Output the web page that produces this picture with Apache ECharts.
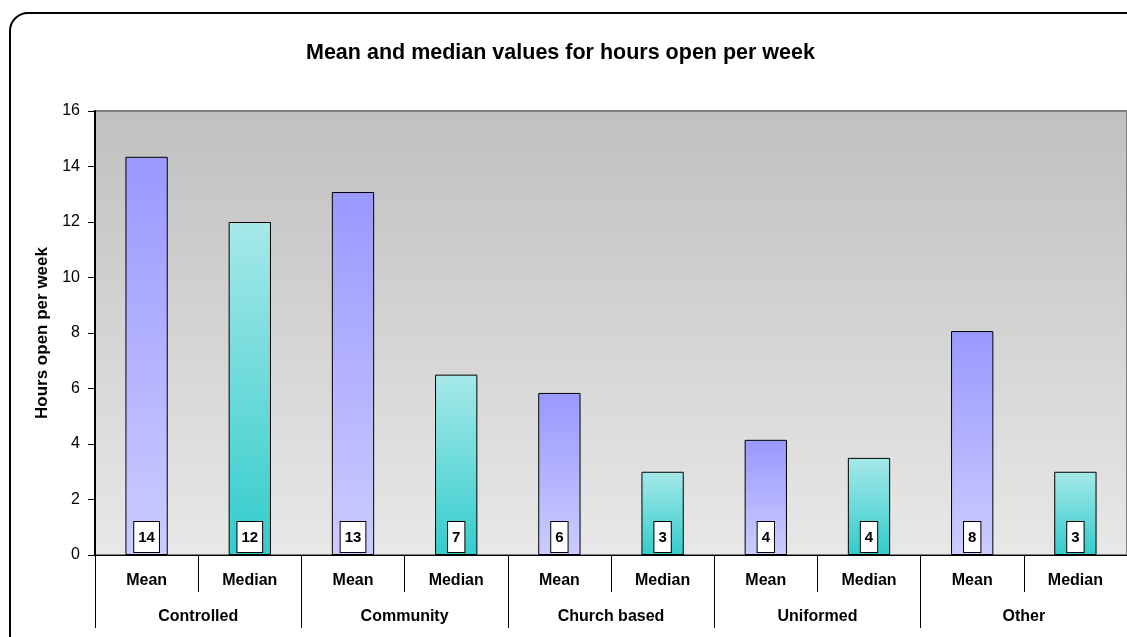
<!DOCTYPE html>
<html>
<head>
<meta charset="utf-8">
<script src="https://cdn.jsdelivr.net/npm/echarts@6/dist/echarts.min.js"></script>
<style>
html,body{margin:0;padding:0;background:#fff;}
#main{width:1127px;height:637px;}
</style>
</head>
<body>
<div id="main"></div>
<script>
// categories (two levels)
var measures = ['Mean', 'Median', 'Mean', 'Median', 'Mean', 'Median', 'Mean', 'Median', 'Mean', 'Median'];
var groups = ['Controlled', 'Community', 'Church based', 'Uniformed', 'Other'];
// hours open per week
var hours = [14.35, 12.0, 13.08, 6.5, 5.84, 3.0, 4.15, 3.5, 8.07, 3.0];
var yTicks = [0, 2, 4, 6, 8, 10, 12, 14, 16];

var meanFill = {type:'linear', x:0, y:0, x2:0, y2:1,
    colorStops:[{offset:0, color:'#9999ff'}, {offset:1, color:'#ccccff'}]};
var medianFill = {type:'linear', x:0, y:0, x2:0, y2:1,
    colorStops:[{offset:0, color:'#a6e8e8'}, {offset:1, color:'#33cccc'}]};

var barData = [];
for (var i = 0; i < hours.length; i++) {
    barData.push({
        value: hours[i],
        itemStyle: {color: measures[i] == 'Mean' ? meanFill : medianFill}
    });
}

var font = 'Liberation Sans';
var chart = echarts.init(document.getElementById('main'));
var option = {
    animation: false,
    title: {
        text: 'Mean and median values for hours open per week',
        left: 301,
        top: 37,
        textStyle: {fontFamily: font, fontSize: 21.5, fontWeight: 'bold', color: '#000'}
    },
    graphic: [{
        type: 'rect',
        shape: {x: 10, y: 13, width: 1200, height: 640, r: 18},
        style: {fill: 'none', stroke: '#000', lineWidth: 2},
        silent: true,
        z: 100
    }],
    grid: {
        left: 95, top: 111, right: -3, bottom: 82,
        show: true,
        borderColor: '#808080',
        borderWidth: 2,
        backgroundColor: {type:'linear', x:0, y:0, x2:0, y2:1,
            colorStops:[{offset:0, color:'#c0c0c0'}, {offset:1, color:'#e8e8e8'}]}
    },
    xAxis: [{
        type: 'category',
        data: measures,
        position: 'bottom',
        axisLine: {show: true, lineStyle: {color: '#000', width: 1}},
        axisTick: {show: true, length: 37, interval: 0, lineStyle: {color: '#000'}},
        axisLabel: {margin: 18, color: '#000', fontFamily: font, fontSize: 16, fontWeight: 'bold', interval: 0}
    }, {
        type: 'category',
        data: groups,
        position: 'bottom',
        axisLine: {show: false},
        axisTick: {show: true, length: 73, interval: 0, lineStyle: {color: '#000'}},
        axisLabel: {margin: 54, color: '#000', fontFamily: font, fontSize: 16, fontWeight: 'bold', interval: 0}
    }],
    yAxis: {
        type: 'value',
        min: yTicks[0],
        max: yTicks[yTicks.length - 1],
        interval: 2,
        name: 'Hours open per week',
        nameLocation: 'middle',
        nameGap: 43,
        nameTextStyle: {color: '#000', fontFamily: font, fontSize: 17, fontWeight: 'bold'},
        axisLine: {show: true, lineStyle: {color: '#000', width: 2}},
        axisTick: {show: true, length: 7, lineStyle: {color: '#000'}},
        axisLabel: {margin: 15, color: '#000', fontFamily: font, fontSize: 16},
        splitLine: {show: false}
    },
    series: [{
        type: 'bar',
        xAxisIndex: 0,
        data: barData,
        barWidth: '41%',
        itemStyle: {borderColor: '#000', borderWidth: 1},
        label: {
            show: true,
            position: 'insideBottom',
            distance: 3,
            formatter: function (p) { return Math.round(p.value); },
            color: '#000',
            fontFamily: font,
            fontSize: 15,
            fontWeight: 'bold',
            backgroundColor: '#fff',
            borderColor: '#000',
            borderWidth: 1,
            padding: [8, 4, 7, 4]
        }
    }]
};
chart.setOption(option);
</script>
</body>
</html>
